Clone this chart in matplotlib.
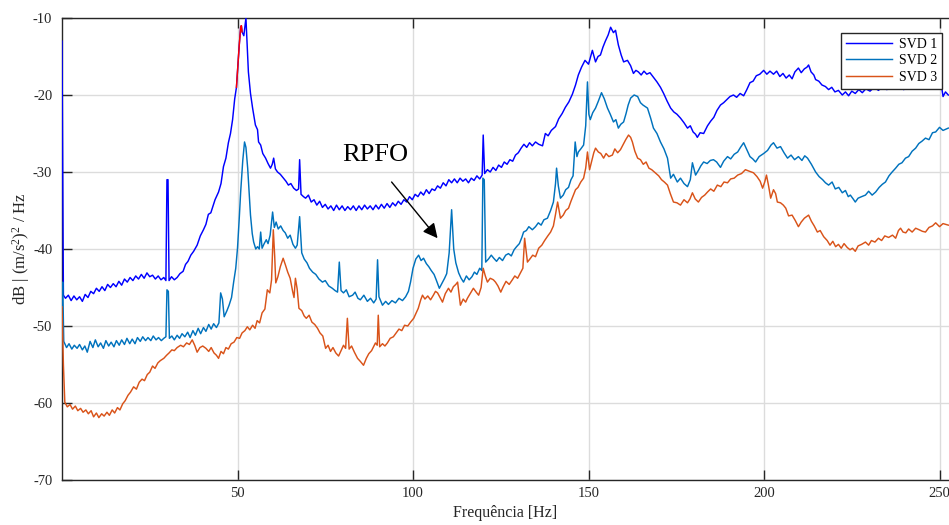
import matplotlib
matplotlib.use("Agg")
import matplotlib.pyplot as plt
import numpy as np

# ---------------- data (frequency Hz, level dB) ----------------
svd1_pts = [
(0.0,-13.0),(0.4,-46.0),(1.0,-46.4),(1.8,-46.0),(2.6,-46.7),(3.4,-46.1),(4.2,-46.6),(5.0,-46.2),(5.8,-46.8),(6.6,-45.9),(7.4,-46.3),(8.2,-45.5),(9.0,-45.8),(9.8,-45.1),(10.6,-45.5),(11.4,-44.9),(12.2,-45.4),(13.0,-44.6),(13.8,-45.0),(14.6,-44.5),(15.4,-44.9),(16.2,-44.2),(17.0,-44.7),(17.8,-43.9),(18.6,-44.3),(19.4,-43.7),(20.2,-44.1),(21.0,-43.5),(21.8,-43.9),(22.6,-43.3),(23.4,-43.8),(24.2,-43.1),(25.0,-43.6),(25.8,-43.4),(26.6,-43.9),(27.4,-43.5),(28.2,-44.0),(29.0,-43.7),(29.6,-44.1),(29.9,-31.0),(30.2,-31.0),(30.5,-44.1),(31.2,-43.6),(32.0,-44.0),(32.8,-43.7),(33.6,-43.2),(34.5,-42.9),(35.2,-42.0),(35.9,-41.6),(36.7,-40.8),(37.5,-40.3),(38.5,-39.5),(39.4,-38.3),(40.3,-37.5),(41.0,-36.8),(41.7,-35.5),(42.4,-35.3),(42.9,-34.6),(43.6,-33.6),(44.6,-32.6),(45.3,-31.5),(46.0,-29.3),(46.7,-28.2),(47.4,-26.2),(48.0,-25.0),(48.6,-23.2),(49.2,-20.5),(49.7,-19.0),(50.1,-16.2),(50.5,-13.5),(50.9,-11.2),(51.1,-11.0),(51.3,-11.8),(51.8,-12.3),(52.4,-10.0),(53.1,-17.0),(53.7,-19.8),(54.3,-21.7),(55.1,-23.9),(55.7,-24.5),(56.0,-26.1),(56.6,-26.5),(57.2,-27.6),(58.0,-28.2),(58.7,-28.9),(59.4,-29.5),(59.9,-29.0),(60.3,-28.2),(60.8,-29.6),(61.4,-30.0),(62.2,-30.3),(63.1,-30.8),(63.8,-31.2),(64.5,-31.7),(65.2,-31.5),(66.0,-32.1),(66.8,-32.4),(67.4,-32.2),(67.7,-28.4),(68.1,-32.9),(68.8,-33.2),(69.4,-33.4),(70.2,-33.0),(71.0,-33.9),(71.8,-33.6),(72.6,-34.3),(73.4,-33.8),(74.2,-34.6),(75.0,-34.2),(75.8,-34.8),(76.6,-34.4),(77.4,-35.0),(78.2,-34.3),(79.0,-34.9),(79.8,-34.4),(80.6,-35.0),(81.4,-34.5),(82.2,-34.9),(83.0,-34.4),(83.8,-35.0),(84.6,-34.4),(85.4,-34.9),(86.2,-34.3),(87.0,-34.8),(87.8,-34.4),(88.6,-34.9),(89.4,-34.3),(90.2,-34.8),(91.0,-34.2),(91.8,-34.7),(92.6,-34.1),(93.4,-34.6),(94.2,-34.0),(95.0,-34.4),(95.8,-33.8),(96.6,-34.2),(97.4,-33.6),(98.2,-33.9),(99.0,-33.2),(99.8,-33.6),(100.6,-32.9),(101.4,-33.2),(102.2,-32.6),(103.0,-33.0),(103.8,-32.3),(104.6,-32.8),(105.4,-32.2),(106.2,-32.4),(107.0,-31.8),(107.8,-32.1),(108.6,-31.4),(109.4,-31.8),(110.2,-31.0),(111.0,-31.4),(111.8,-30.9),(112.6,-31.4),(113.4,-30.8),(114.2,-31.2),(115.0,-30.9),(115.8,-31.4),(116.6,-30.8),(117.4,-31.1),(118.2,-30.5),(119.0,-30.9),(119.7,-30.4),(120.0,-25.2),(120.4,-30.2),(121.2,-29.7),(122.0,-30.0),(122.8,-29.4),(123.6,-29.8),(124.4,-29.1),(125.2,-29.4),(126.0,-28.7),(126.8,-29.0),(127.6,-28.4),(128.4,-28.6),(129.2,-27.8),(130.0,-27.5),(130.8,-26.9),(131.6,-26.4),(132.4,-26.8),(133.2,-26.2),(134.0,-26.6),(134.9,-26.1),(135.8,-26.4),(136.9,-26.6),(137.7,-25.0),(138.5,-25.3),(139.4,-24.6),(140.6,-24.1),(141.5,-23.1),(142.5,-22.4),(143.4,-21.6),(144.4,-20.9),(145.4,-19.9),(146.3,-18.7),(147.1,-17.4),(148.0,-16.4),(149.0,-15.5),(150.0,-16.0),(151.1,-14.2),(152.0,-15.7),(152.7,-15.0),(153.4,-14.8),(154.1,-13.8),(154.8,-13.0),(155.6,-12.2),(156.3,-11.2),(157.1,-11.9),(157.7,-11.6),(158.5,-13.5),(159.3,-14.8),(160.0,-15.7),(161.1,-15.5),(162.0,-16.2),(162.8,-17.2),(163.5,-16.8),(164.2,-17.0),(165.0,-17.4),(165.8,-16.9),(166.6,-17.3),(167.5,-17.1),(168.5,-17.7),(169.5,-18.3),(170.5,-19.0),(171.4,-19.8),(172.4,-20.8),(173.4,-21.7),(174.3,-22.2),(175.2,-22.5),(176.2,-23.0),(177.2,-23.6),(178.2,-24.3),(179.0,-24.0),(179.8,-24.8),(180.5,-25.1),(181.0,-25.5),(181.8,-24.9),(182.8,-25.0),(183.9,-24.0),(184.8,-23.4),(185.7,-22.9),(186.6,-22.0),(187.6,-21.3),(188.5,-21.0),(189.4,-20.6),(190.3,-20.2),(191.3,-20.0),(192.2,-20.3),(193.2,-19.8),(194.2,-20.1),(195.1,-19.3),(196.0,-18.4),(196.9,-18.2),(197.8,-17.5),(198.8,-17.3),(199.9,-16.8),(200.8,-17.3),(201.7,-16.9),(202.7,-17.3),(203.6,-16.9),(204.5,-17.6),(205.4,-17.2),(206.3,-17.8),(207.2,-17.4),(208.0,-17.9),(208.8,-17.0),(209.8,-16.5),(210.6,-17.1),(211.5,-16.6),(212.2,-16.4),(212.7,-16.1),(213.4,-17.0),(214.2,-17.4),(214.7,-18.0),(215.6,-18.2),(216.5,-18.7),(217.5,-18.9),(218.4,-19.3),(219.3,-19.0),(220.2,-19.6),(221.2,-19.4),(222.3,-20.0),(223.2,-19.6),(224.1,-20.1),(225.0,-19.5),(226.0,-19.8),(227.0,-19.3),(228.0,-19.7),(229.0,-19.2),(230.2,-19.5),(231.4,-19.0),(232.6,-19.4),(233.8,-18.9),(235.0,-19.3),(236.2,-18.9),(237.4,-19.2),(238.6,-18.8),(239.8,-19.3),(241.0,-18.9),(242.2,-19.2),(243.4,-18.8),(244.6,-19.1),(245.8,-18.7),(247.0,-19.0),(248.2,-18.6),(249.4,-18.9),(250.4,-18.3),(251.0,-20.2),(251.7,-19.6),(252.5,-20.0)
]

svd2_pts = [
(0.0,-47.5),(0.2,-44.3),(0.5,-52.0),(1.3,-52.8),(2.0,-52.3),(2.8,-53.0),(3.5,-52.5),(4.3,-52.9),(5.0,-52.4),(5.8,-53.1),(6.5,-52.6),(7.2,-53.4),(8.0,-52.0),(8.8,-52.8),(9.5,-51.8),(10.3,-52.7),(11.0,-52.2),(11.8,-52.9),(12.5,-51.9),(13.3,-52.6),(14.0,-52.1),(14.8,-52.7),(15.5,-51.9),(16.3,-52.5),(17.0,-51.8),(17.8,-52.4),(18.5,-51.6),(19.3,-52.3),(20.0,-51.7),(20.8,-52.3),(21.5,-51.5),(22.3,-52.0),(23.0,-51.4),(23.8,-51.9),(24.5,-51.5),(25.3,-51.9),(26.0,-51.3),(26.8,-51.8),(27.5,-51.5),(28.3,-51.9),(29.0,-51.6),(29.6,-51.4),(29.9,-45.3),(30.3,-45.5),(30.6,-51.6),(31.3,-51.3),(32.0,-51.8),(32.8,-51.2),(33.5,-51.6),(34.2,-51.0),(35.0,-51.4),(35.8,-50.8),(36.5,-51.5),(37.3,-50.6),(38.0,-51.2),(38.8,-50.3),(39.5,-51.0),(40.3,-50.2),(41.0,-50.7),(41.8,-49.8),(42.5,-50.4),(43.2,-49.7),(44.0,-50.2),(44.7,-49.6),(45.2,-45.7),(45.7,-46.5),(46.2,-48.8),(47.0,-48.0),(47.6,-47.3),(48.3,-46.3),(48.9,-44.3),(49.5,-42.5),(50.0,-39.9),(50.5,-36.0),(50.9,-32.6),(51.5,-28.5),(52.0,-26.1),(52.4,-26.8),(52.9,-29.5),(53.3,-32.5),(53.7,-35.6),(54.2,-38.0),(54.6,-39.1),(55.2,-40.0),(55.7,-39.7),(56.2,-40.0),(56.6,-37.8),(57.0,-39.9),(57.6,-39.3),(58.2,-38.8),(58.7,-39.3),(59.3,-38.2),(60.0,-35.2),(60.5,-37.2),(61.0,-36.5),(61.6,-37.4),(62.3,-37.0),(63.0,-37.6),(63.6,-37.9),(64.3,-38.6),(65.0,-38.2),(65.8,-39.4),(66.5,-39.9),(67.0,-39.5),(67.7,-35.8),(68.3,-40.5),(69.0,-41.3),(69.8,-41.8),(70.5,-42.5),(71.4,-43.0),(72.3,-43.3),(73.2,-43.9),(74.2,-44.3),(75.0,-44.1),(76.0,-44.8),(77.0,-45.1),(77.8,-45.4),(78.5,-45.6),(79.0,-41.7),(79.5,-45.4),(80.2,-45.7),(81.0,-45.3),(81.8,-46.2),(82.8,-46.0),(83.5,-45.6),(84.3,-46.4),(85.0,-46.6),(86.0,-46.0),(87.0,-46.8),(87.9,-46.4),(88.8,-47.0),(89.5,-46.5),(89.9,-41.4),(90.3,-46.2),(91.3,-47.3),(92.2,-46.8),(93.0,-47.2),(94.0,-46.7),(95.0,-47.0),(96.0,-46.4),(97.0,-46.7),(97.9,-46.2),(98.7,-45.5),(99.3,-44.3),(100.0,-42.5),(100.8,-41.3),(101.6,-40.8),(102.3,-41.5),(103.0,-41.2),(103.8,-41.9),(104.5,-42.3),(105.2,-42.8),(106.0,-43.3),(106.6,-44.0),(107.5,-45.1),(108.3,-44.4),(109.0,-43.8),(109.6,-43.2),(110.3,-40.5),(111.0,-34.9),(111.6,-40.0),(112.2,-41.8),(113.0,-43.1),(113.7,-43.8),(114.4,-44.3),(115.2,-43.5),(116.0,-44.0),(116.8,-43.6),(117.5,-43.0),(118.2,-43.3),(119.0,-42.5),(119.6,-42.8),(119.9,-30.8),(120.3,-31.0),(120.7,-41.7),(121.5,-41.3),(122.3,-40.8),(123.0,-41.2),(123.8,-41.6),(124.6,-41.1),(125.5,-41.5),(126.4,-40.8),(127.2,-40.6),(128.0,-40.9),(128.8,-40.1),(129.5,-39.7),(130.3,-39.3),(131.0,-38.5),(131.5,-37.8),(132.3,-37.6),(133.0,-37.1),(134.0,-37.5),(134.9,-37.1),(135.7,-36.6),(136.5,-36.9),(137.3,-36.2),(138.3,-36.0),(139.2,-35.0),(140.0,-33.9),(140.6,-31.5),(140.9,-29.5),(141.4,-31.8),(142.0,-33.4),(142.8,-33.0),(143.5,-32.3),(144.3,-32.0),(145.0,-31.0),(145.6,-30.5),(146.2,-26.1),(146.7,-28.0),(147.1,-27.4),(147.8,-27.0),(148.6,-26.5),(149.2,-24.0),(149.7,-18.3),(150.1,-22.5),(150.5,-23.2),(151.2,-22.3),(152.0,-21.7),(152.8,-20.8),(153.7,-19.7),(154.5,-20.5),(155.4,-21.7),(156.2,-22.5),(157.1,-23.5),(157.8,-23.2),(158.5,-24.3),(159.2,-23.8),(160.0,-23.5),(160.7,-22.4),(161.3,-21.3),(162.0,-20.4),(163.0,-20.0),(164.0,-20.2),(164.8,-21.0),(165.5,-21.3),(166.8,-21.7),(167.7,-23.0),(168.5,-24.3),(169.5,-25.0),(170.5,-26.1),(171.5,-27.0),(172.5,-28.2),(173.4,-30.8),(174.2,-30.3),(175.3,-31.3),(176.2,-30.8),(177.2,-31.5),(178.2,-31.9),(179.0,-31.0),(179.6,-28.8),(180.5,-30.4),(181.3,-29.8),(182.0,-29.2),(182.8,-28.7),(183.8,-28.9),(184.7,-28.5),(185.6,-28.4),(186.5,-28.7),(187.6,-29.4),(188.5,-28.6),(189.6,-28.0),(190.5,-28.3),(191.5,-27.7),(192.5,-27.4),(193.3,-26.8),(194.2,-26.2),(195.0,-27.0),(196.0,-28.0),(196.8,-28.3),(197.6,-28.7),(198.6,-28.0),(199.9,-27.6),(201.0,-27.2),(202.0,-26.5),(202.7,-26.2),(203.7,-26.9),(204.7,-26.7),(205.7,-27.5),(206.7,-28.2),(207.7,-27.8),(208.7,-28.4),(209.8,-28.0),(210.8,-28.5),(211.6,-27.9),(212.4,-28.2),(213.5,-29.0),(214.7,-30.0),(215.7,-30.6),(216.7,-31.0),(217.5,-31.4),(218.4,-31.7),(219.4,-31.3),(220.3,-32.2),(221.3,-32.0),(222.3,-32.7),(223.2,-32.4),(224.0,-33.2),(224.6,-33.0),(225.4,-33.5),(226.0,-33.9),(226.8,-33.4),(227.8,-33.2),(228.9,-33.0),(229.8,-32.5),(230.8,-33.0),(231.8,-32.6),(232.8,-32.0),(233.7,-31.6),(234.6,-31.3),(235.6,-30.5),(236.5,-30.0),(237.5,-29.5),(238.4,-29.0),(239.3,-28.8),(240.3,-28.2),(241.2,-28.0),(242.2,-27.3),(243.2,-26.9),(244.1,-26.3),(245.0,-26.0),(246.0,-25.6),(247.0,-25.8),(248.0,-24.9),(248.9,-24.8),(250.0,-24.2),(251.0,-24.6),(252.5,-24.3)
]

svd3_pts = [
(0.0,-47.5),(0.4,-55.0),(0.8,-59.9),(1.5,-60.5),(2.3,-60.2),(3.0,-60.8),(3.8,-60.4),(4.5,-61.0),(5.3,-60.7),(6.0,-61.2),(6.8,-60.9),(7.5,-61.4),(8.3,-61.0),(9.0,-61.8),(9.8,-61.3),(10.5,-61.9),(11.3,-61.4),(12.0,-61.7),(12.8,-61.2),(13.5,-61.6),(14.3,-60.9),(15.0,-61.3),(15.8,-60.6),(16.5,-60.9),(17.3,-60.1),(18.0,-59.7),(18.8,-59.0),(19.5,-58.6),(20.4,-57.9),(21.2,-58.2),(22.0,-57.3),(22.8,-56.9),(23.5,-57.1),(24.3,-56.3),(25.0,-56.0),(25.8,-55.2),(26.5,-55.5),(27.3,-54.8),(28.0,-54.5),(29.0,-54.2),(29.8,-53.8),(30.5,-53.5),(31.3,-53.1),(32.0,-53.2),(32.8,-52.8),(33.8,-52.5),(34.6,-52.7),(35.5,-52.2),(36.3,-52.4),(37.1,-51.8),(37.8,-52.5),(38.5,-53.4),(39.3,-52.8),(40.1,-52.6),(41.0,-52.9),(41.8,-53.3),(42.5,-52.8),(43.3,-53.5),(44.0,-53.8),(44.6,-54.2),(45.3,-53.3),(46.0,-53.6),(46.7,-52.8),(47.4,-53.0),(48.2,-52.3),(49.0,-52.1),(49.8,-51.5),(50.6,-51.6),(51.3,-50.9),(52.1,-50.6),(52.8,-50.1),(53.5,-50.5),(54.3,-49.9),(55.0,-50.3),(55.6,-49.3),(56.3,-49.6),(57.0,-48.3),(57.8,-47.8),(58.5,-45.3),(59.2,-45.7),(59.7,-44.0),(60.2,-37.5),(60.6,-41.0),(60.9,-44.4),(61.5,-43.6),(62.2,-42.3),(63.0,-41.2),(63.6,-42.0),(64.3,-43.0),(65.0,-43.8),(65.7,-45.5),(66.1,-46.3),(66.5,-43.8),(67.0,-45.2),(67.5,-47.7),(68.3,-48.0),(69.0,-48.7),(69.6,-49.0),(70.4,-48.6),(71.2,-49.5),(72.0,-49.8),(72.8,-50.3),(73.5,-50.9),(74.3,-51.3),(75.1,-52.9),(75.8,-52.5),(76.5,-53.3),(77.2,-52.8),(78.0,-53.5),(78.8,-53.9),(79.5,-53.2),(80.2,-52.5),(80.8,-52.9),(81.3,-49.0),(81.8,-53.0),(82.5,-52.6),(83.3,-53.4),(84.2,-54.2),(85.0,-54.6),(85.9,-55.1),(86.7,-54.2),(87.4,-53.6),(88.2,-53.2),(89.3,-52.2),(89.8,-52.5),(90.1,-48.6),(90.5,-52.7),(91.3,-52.3),(92.0,-52.6),(92.7,-52.2),(93.5,-51.6),(94.4,-51.4),(95.2,-50.9),(96.0,-50.4),(96.8,-50.6),(97.6,-49.9),(98.5,-50.0),(99.3,-49.5),(100.2,-49.0),(100.8,-48.4),(101.5,-47.7),(102.2,-46.6),(102.7,-46.0),(103.4,-46.5),(104.2,-46.1),(105.0,-46.6),(105.8,-46.0),(106.4,-45.5),(107.0,-45.7),(107.7,-46.3),(108.4,-46.9),(109.2,-45.8),(110.1,-45.1),(110.8,-45.6),(111.5,-44.9),(112.2,-44.6),(112.7,-44.3),(113.5,-47.3),(114.3,-46.5),(115.0,-46.9),(115.5,-46.4),(116.3,-45.8),(117.2,-45.1),(118.0,-45.6),(118.7,-46.0),(119.4,-45.0),(120.0,-42.5),(120.6,-43.5),(121.2,-44.3),(122.0,-43.8),(122.9,-44.0),(123.5,-44.3),(124.2,-44.8),(125.0,-45.6),(125.7,-44.9),(126.5,-44.2),(127.4,-44.6),(128.3,-44.0),(129.0,-43.5),(129.8,-43.8),(130.6,-43.1),(131.3,-42.5),(131.8,-38.6),(132.6,-41.7),(133.3,-41.3),(134.1,-40.8),(134.9,-41.0),(135.8,-39.9),(136.7,-39.5),(137.5,-38.9),(138.4,-38.3),(139.2,-37.8),(140.0,-37.0),(140.6,-35.5),(141.2,-33.9),(142.0,-36.0),(142.8,-35.6),(143.5,-35.0),(144.3,-34.7),(145.0,-33.8),(145.7,-33.0),(146.3,-32.3),(147.0,-32.0),(147.8,-31.3),(148.6,-30.8),(149.2,-29.5),(149.7,-27.4),(150.3,-29.7),(150.9,-28.6),(151.5,-27.5),(152.0,-26.9),(152.8,-27.4),(153.5,-27.6),(154.3,-28.2),(155.0,-27.6),(155.8,-28.0),(156.8,-27.8),(157.5,-27.0),(158.3,-27.5),(159.1,-27.1),(159.8,-26.5),(160.6,-25.8),(161.4,-25.2),(162.0,-25.5),(162.5,-26.1),(163.2,-27.3),(164.0,-28.2),(164.8,-28.4),(165.6,-29.0),(166.4,-28.7),(167.2,-29.5),(168.0,-29.7),(169.0,-30.1),(170.0,-30.5),(170.8,-31.0),(171.6,-31.3),(172.5,-31.7),(173.3,-32.8),(174.2,-33.9),(175.2,-34.0),(176.2,-34.3),(177.2,-33.6),(178.2,-34.0),(178.9,-33.5),(179.6,-32.7),(180.4,-33.5),(181.3,-33.9),(182.2,-33.3),(183.1,-33.0),(183.9,-32.6),(184.8,-32.2),(185.7,-32.5),(186.7,-31.7),(187.7,-31.9),(188.6,-31.3),(189.6,-31.4),(190.5,-30.9),(191.5,-30.8),(192.5,-30.4),(193.6,-30.2),(194.7,-29.7),(195.8,-29.9),(197.0,-30.1),(198.0,-30.6),(198.9,-31.2),(199.6,-32.1),(200.2,-31.3),(200.7,-30.4),(201.3,-31.8),(201.9,-33.4),(202.7,-32.3),(203.3,-32.8),(203.8,-33.9),(204.7,-34.0),(205.5,-34.3),(206.2,-34.7),(207.0,-35.7),(208.0,-35.6),(208.9,-36.3),(209.8,-37.1),(210.6,-36.5),(211.5,-36.0),(212.7,-35.6),(213.5,-36.4),(214.3,-37.0),(215.2,-37.8),(216.0,-37.6),(217.0,-38.4),(218.0,-38.9),(218.8,-39.5),(219.6,-39.0),(220.4,-39.7),(221.2,-39.4),(222.0,-39.9),(222.8,-39.3),(223.7,-39.8),(224.5,-40.1),(225.2,-39.9),(226.0,-40.3),(226.8,-39.6),(227.8,-39.4),(228.9,-39.1),(229.8,-39.5),(230.6,-38.9),(231.6,-39.1),(232.6,-38.6),(233.5,-38.9),(234.4,-38.3),(235.5,-38.5),(236.6,-38.2),(237.5,-38.6),(238.3,-37.6),(238.9,-37.3),(239.6,-37.8),(240.4,-37.9),(241.2,-37.4),(242.2,-37.8),(243.2,-37.3),(244.2,-37.5),(245.1,-37.7),(246.0,-37.8),(247.0,-37.2),(248.0,-37.0),(248.9,-36.6),(250.0,-37.1),(251.0,-36.7),(252.5,-36.9)
]

series_labels = ["SVD 1", "SVD 2", "SVD 3"]
highlight_range = (49.7, 51.3)   # part of SVD 1 drawn in red
xticks = [50, 100, 150, 200, 250]
yticks = [-70, -60, -50, -40, -30, -20, -10]
annot_text = "RPFO"

# ---------------- style ----------------
plt.rcParams['font.family'] = ['Liberation Serif', 'DejaVu Serif']
plt.rcParams['mathtext.fontset'] = 'custom'
plt.rcParams['mathtext.rm'] = 'Liberation Serif'
plt.rcParams['mathtext.it'] = 'Liberation Serif:italic'
plt.rcParams['axes.unicode_minus'] = False
axcol = '#262626'

W, H = 949, 525
fig = plt.figure(figsize=(W / 100, H / 100), dpi=100)
ax = fig.add_axes([62 / W, 1 - 480 / H, 887 / W, 462 / H])

f1, v1 = map(np.array, zip(*svd1_pts))
f2, v2 = map(np.array, zip(*svd2_pts))
f3, v3 = map(np.array, zip(*svd3_pts))

lw = 1.05
ax.plot(f1, v1, color='#0000FF', lw=lw, label=series_labels[0], zorder=3)
ax.plot(f2, v2, color='#0072BD', lw=lw, label=series_labels[1], zorder=3)
ax.plot(f3, v3, color='#D95319', lw=lw, label=series_labels[2], zorder=3)
m = (f1 >= highlight_range[0]) & (f1 <= highlight_range[1])
ax.plot(f1[m], v1[m], color='#FF0000', lw=lw, zorder=4)

ax.set_xlim(0, 252.7)
ax.set_ylim(-70, -10)
ax.set_xticks(xticks)
ax.set_yticks(yticks)
ax.grid(True, color='#dcdcdc', lw=1.0)
ax.set_axisbelow(True)

for s in ['left', 'bottom', 'top']:
    ax.spines[s].set_color(axcol)
    ax.spines[s].set_linewidth(1.0)
ax.spines['right'].set_visible(False)

ax.tick_params(axis='both', direction='in', length=7, width=1.0, color=axcol,
               labelcolor=axcol, labelsize=10.5, top=True, right=False)
ax.tick_params(axis='y', pad=7)
ax.tick_params(axis='x', pad=5)

ax.set_xlabel('Frequência [Hz]', fontsize=11.5, color=axcol, va='top')
ax.xaxis.set_label_coords(0.5, -0.055)
ax.set_ylabel(r'dB | (m/s$^{2}$)$^{2}$ / Hz', fontsize=12, color=axcol)
ax.yaxis.set_label_coords(-0.034, 0.5)

ax.annotate('', xy=(107.0, -38.6), xytext=(93.9, -31.3),
            arrowprops=dict(arrowstyle='-|>', color='black', lw=1.0,
                            mutation_scale=22, shrinkA=0, shrinkB=0), zorder=5)
ax.text(79.8, -27.8, annot_text, fontsize=19, va='center', ha='left', color='black')

leg = ax.legend(loc='upper right', bbox_to_anchor=(0.992, 0.9675), fontsize=10,
                frameon=True, fancybox=False, edgecolor=axcol, framealpha=1,
                handlelength=3.3, labelspacing=0.25, borderpad=0.35,
                handletextpad=0.5, borderaxespad=0)
leg.get_frame().set_linewidth(1.0)

fig.savefig('out.png', dpi=100)
